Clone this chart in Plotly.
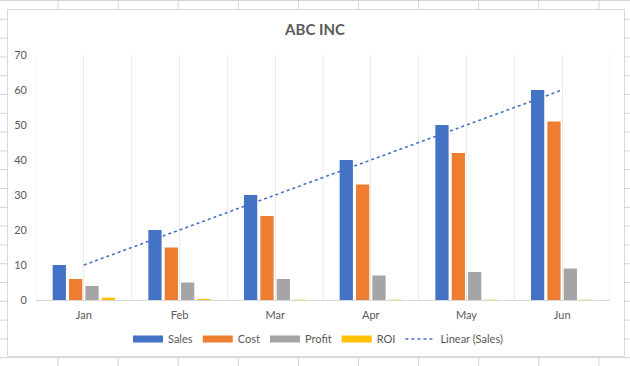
import numpy as np
import plotly.graph_objects as go

# ---- data ----
months = ["Jan", "Feb", "Mar", "Apr", "May", "Jun"]
sales = [10, 20, 30, 40, 50, 60]
cost = [6, 15, 24, 33, 42, 51]
profit = [4, 5, 6, 7, 8, 9]
roi = [0.67, 0.33, 0.1, 0.1, 0.1, 0.1]
y_ticks = [0, 10, 20, 30, 40, 50, 60, 70]

# ---- layout geometry (pixels) ----
W, H = 630, 366
PL, PR, PT, PB = 36, 610, 55, 300  # plot area

COLORS = {"Sales": "#4472C4", "Cost": "#ED7D31", "Profit": "#A5A5A5", "ROI": "#FFC000"}
TXT = "#595959"
FONT = "Lato"


def px_x(px):
    return (px - PL) / (PR - PL)


def px_y(py):
    return (PB - py) / (PB - PT)


fig = go.Figure()

series = [("Sales", sales), ("Cost", cost), ("Profit", profit), ("ROI", roi)]
for name, vals in series:
    fig.add_trace(go.Bar(x=months, y=vals, name=name, marker_color=COLORS[name],
                         marker_line_width=0, showlegend=False))

# linear trendline of Sales
idx = np.arange(len(months))
slope, intercept = np.polyfit(idx, sales, 1)
trend = slope * idx + intercept
fig.add_trace(go.Scatter(x=months, y=trend, mode="lines", name="Linear (Sales)",
                         line=dict(color="#4472C4", width=1.6, dash="dot"), showlegend=False))

# legend entries (wide swatches like Excel)
for name, _ in series:
    fig.add_trace(go.Scatter(x=[None], y=[None], mode="lines", name=name,
                             line=dict(color=COLORS[name], width=7)))
fig.add_trace(go.Scatter(x=[None], y=[None], mode="lines", name="Linear (Sales)",
                         line=dict(color="#4472C4", width=1.6, dash="dot")))

shapes = []
# spreadsheet background grid
grid_col = "#d4d4d4"
for k in range(11):
    xp = 58 + 60.1 * k
    shapes.append(dict(type="line", xref="paper", yref="paper", layer="below",
                       x0=px_x(xp), x1=px_x(xp), y0=px_y(0), y1=px_y(H),
                       line=dict(color=grid_col, width=1)))
for k in range(21):
    yp = 0.5 + 18.8 * k
    shapes.append(dict(type="line", xref="paper", yref="paper", layer="below",
                       x0=px_x(0), x1=px_x(W), y0=px_y(yp), y1=px_y(yp),
                       line=dict(color=grid_col, width=1)))
# chart box
shapes.append(dict(type="rect", xref="paper", yref="paper", layer="below",
                   x0=px_x(7.5), x1=px_x(624.5), y0=px_y(356.5), y1=px_y(9.5),
                   fillcolor="white", line=dict(color="#d9d9d9", width=1)))
# category boundary gridlines
for i in range(len(months) + 1):
    shapes.append(dict(type="line", xref="x", yref="paper", layer="below",
                       x0=i - 0.5, x1=i - 0.5, y0=0, y1=1,
                       line=dict(color="#ebebeb", width=1)))

fig.update_layout(
    width=W, height=H,
    margin=dict(l=PL, r=W - PR, t=PT, b=H - PB, pad=0, autoexpand=False),
    paper_bgcolor="white", plot_bgcolor="rgba(0,0,0,0)",
    font=dict(family=FONT, size=11, color=TXT),
    title=dict(text="<b>ABC INC</b>", x=0.5, xref="container", xanchor="center",
               y=1 - 30 / H, yref="container", yanchor="middle",
               font=dict(family=FONT, size=15, color=TXT)),
    barmode="group", bargap=0.316, bargroupgap=0.19,
    showlegend=True,
    legend=dict(orientation="h", x=px_x(318), xref="paper", xanchor="center",
                y=px_y(339), yanchor="middle", itemwidth=30,
                font=dict(family=FONT, size=11, color=TXT),
                bgcolor="rgba(0,0,0,0)", traceorder="normal"),
    shapes=shapes,
)
fig.update_xaxes(type="category", showgrid=True, gridcolor="#ebebeb", gridwidth=1,
                 showline=True, linecolor="#d9d9d9", linewidth=1, ticks="",
                 ticklabelstandoff=5, range=[-0.5, len(months) - 0.5],
                 tickfont=dict(family=FONT, size=11, color=TXT), fixedrange=True)
fig.update_yaxes(range=[0, 70], tickvals=y_ticks, showgrid=False, zeroline=False,
                 showline=False, ticks="", ticklabelstandoff=8,
                 tickfont=dict(family=FONT, size=11, color=TXT), fixedrange=True)

fig.write_html("out.html", config={"displayModeBar": False, "staticPlot": True},
               post_script="document.body.style.margin='0';")
